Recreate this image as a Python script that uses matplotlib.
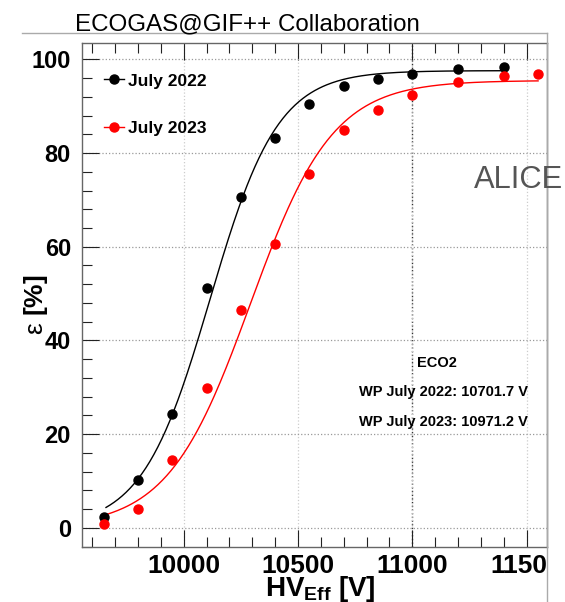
import numpy as np
import matplotlib
matplotlib.use('Agg')
import matplotlib.pyplot as plt
from matplotlib.lines import Line2D
from matplotlib.ticker import MultipleLocator
from matplotlib.transforms import Bbox, TransformedBbox

plt.rcParams['font.family'] = ['Liberation Sans', 'DejaVu Sans']
plt.rcParams['mathtext.fontset'] = 'custom'
plt.rcParams['mathtext.rm'] = 'Liberation Sans'
plt.rcParams['mathtext.bf'] = 'Liberation Sans:bold'

# effective HV scan points [V]
hv_2022 = [9650, 9800, 9950, 10100, 10250, 10400, 10550, 10700, 10850, 11000, 11200, 11400]
hv_2023 = [9650, 9800, 9950, 10100, 10250, 10400, 10550, 10700, 10850, 11000, 11200, 11400, 11550]
# efficiency [%]
eff_2022 = [2.4, 10.2, 24.3, 51.1, 70.6, 83.3, 90.5, 94.3, 95.9, 96.8, 98.0, 98.3]
eff_2023 = [0.9, 4.0, 14.5, 29.9, 46.5, 60.5, 75.6, 84.9, 89.2, 92.3, 95.1, 96.4, 96.9]

# sigmoid fit results: (eff_max, lambda, HV_50)
fit_2022 = (97.6, 0.00674, 10115.0)
fit_2023 = (95.5, 0.00554, 10291.0)
wp_2022 = 10701.7
wp_2023 = 10971.2


def sigmoid(hv, emax, lam, hv50):
    return emax / (1.0 + np.exp(-lam * (hv - hv50)))


fig = plt.figure(figsize=(5.65, 6.02), dpi=100)
ax = fig.add_axes([82/565, 1-547/602, 465/565, 504/602])

ax.set_xlim(9555, 11589)
ax.set_ylim(-4.1, 103.5)

ax.xaxis.set_major_locator(MultipleLocator(500))
ax.xaxis.set_minor_locator(MultipleLocator(100))
ax.yaxis.set_major_locator(MultipleLocator(20))
ax.yaxis.set_minor_locator(MultipleLocator(4))
ax.tick_params(which='both', direction='in', top=True, right=False, color='#222')
ax.tick_params(which='major', length=12, width=0.8)
ax.tick_params(which='minor', length=7, width=0.8)
ax.tick_params(axis='x', labelsize=19, pad=5)
ax.tick_params(axis='y', labelsize=17, pad=8)
for sp in ax.spines.values():
    sp.set_color('#666')
    sp.set_linewidth(1.0)

ax.grid(axis='y', which='major', color='#999', ls=':', lw=0.9)
ax.grid(axis='x', which='major', color='#ccc', ls=':', lw=0.9)
ax.axvline(11000, color='#333', ls=':', lw=1.0, zorder=1)

# fit curves over the scanned range
for hv, fit, col in [(hv_2022, fit_2022, 'black'), (hv_2023, fit_2023, 'red')]:
    xs = np.linspace(hv[0] + 10, hv[-1], 300)
    ax.plot(xs, sigmoid(xs, *fit), color=col, lw=1.0, zorder=2)

ax.plot(hv_2022, eff_2022, 'o', color='black', ms=6.5, zorder=3)
ax.plot(hv_2023, eff_2023, 'o', color='red', ms=6.5, zorder=3)

handles = [Line2D([], [], color='black', marker='o', ms=6.5, lw=1.0),
           Line2D([], [], color='red', marker='o', ms=6.5, lw=1.0)]
ax.legend(handles, ['July 2022', 'July 2023'], loc='upper left',
          bbox_to_anchor=(0.028, 0.957), frameon=False, borderpad=0,
          handlelength=1.15, handletextpad=0.25, labelspacing=1.85,
          prop={'weight': 'bold', 'size': 12.5})

fig.text(437/565, 1-362.7/602, 'ECO2', ha='center', va='center',
         fontsize=10.5, fontweight='bold')
fig.text(443.5/565, 1-391.7/602, f'WP July 2022: {wp_2022:.1f} V',
         ha='center', va='center', fontsize=10.5, fontweight='bold')
fig.text(443.5/565, 1-421.7/602, f'WP July 2023: {wp_2023:.1f} V',
         ha='center', va='center', fontsize=10.5, fontweight='bold')

fig.text(320/565, 1-596/602, r'HV$_{\mathbf{Eff}}$ [V]', ha='center',
         va='baseline', fontsize=20, fontweight='bold')
fig.text(36/565, 1-305/602, r'ε $\mathbf{[\%]}$', rotation=90,
         ha='center', va='center', fontsize=19)

fig.text(75/565, 1-30/602, 'ECOGAS@GIF++ Collaboration', ha='left',
         va='baseline', fontsize=17.4)
fig.text(474/565, 1-188/602, 'ALICE', ha='left', va='baseline',
         fontsize=22.2, color='#555')

# outer pad frame
fig.add_artist(Line2D([22/565, 547/565], [1-33/602, 1-33/602],
                      transform=fig.transFigure, color='#aaa', lw=1.0))
fig.add_artist(Line2D([547/565, 547/565], [1-33/602, 0],
                      transform=fig.transFigure, color='#aaa', lw=1.0))

# tick labels are cut at the pad edge
fig.canvas.draw()
pad_clip = TransformedBbox(Bbox([[0, 0], [547/565, 1]]), fig.transFigure)
for lab in ax.get_xticklabels() + ax.get_yticklabels():
    lab.set_fontweight('bold')
    lab.set_clip_box(pad_clip)
    lab.set_clip_on(True)

fig.savefig('out.png', dpi=100)
